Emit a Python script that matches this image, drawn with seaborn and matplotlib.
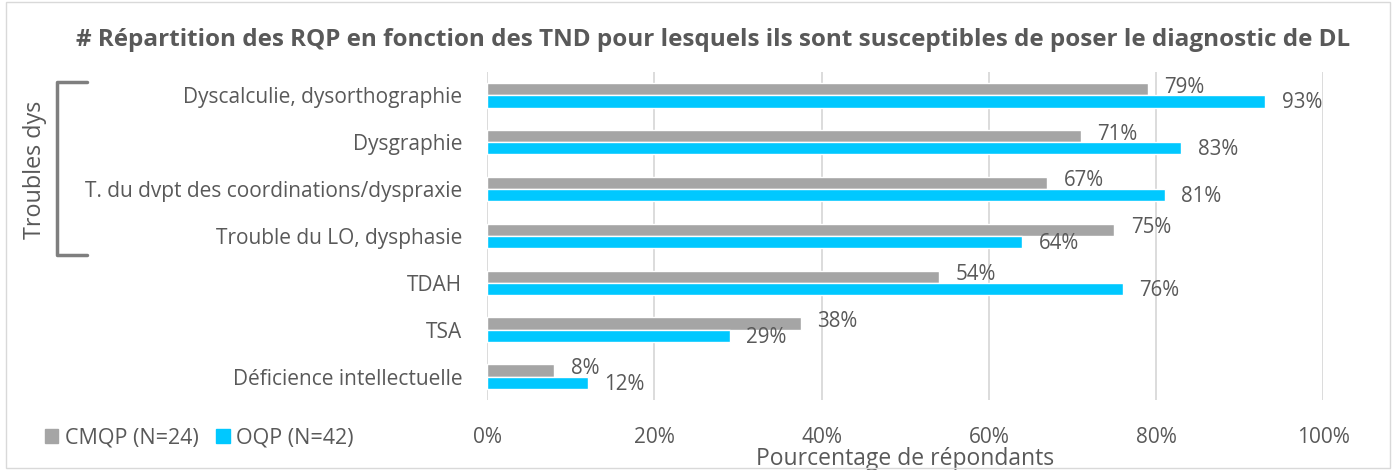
import numpy as np
import pandas as pd
import seaborn as sns
from matplotlib import pyplot as plt
from matplotlib.patches import Rectangle
from matplotlib.lines import Line2D

categories = ["Dyscalculie, dysorthographie", "Dysgraphie",
              "T. du dvpt des coordinations/dyspraxie", "Trouble du LO, dysphasie",
              "TDAH", "TSA", "Déficience intellectuelle"]
cmqp = [79, 71, 67, 75, 54, 37.5, 8]
oqp = [93, 83, 81, 64, 76, 29, 12]
cmqp_labels = ["79%", "71%", "67%", "75%", "54%", "38%", "8%"]
oqp_labels = ["93%", "83%", "81%", "64%", "76%", "29%", "12%"]
series = ["CMQP (N=24)", "OQP (N=42)"]

txt = "#595959"
colors = ["#A5A5A5", "#00C8FF"]

sns.set_theme(style="white")
plt.rcParams['font.family'] = ['Open Sans', 'DejaVu Sans']

df = pd.DataFrame({
    "cat": categories * 2,
    "val": cmqp + oqp,
    "serie": [series[0]] * 7 + [series[1]] * 7,
})

fig = plt.figure(figsize=(13.96, 4.70), dpi=100)
ax = fig.add_axes([0.349, 0.149, 0.599, 0.698])

sns.barplot(data=df, y="cat", x="val", hue="serie", palette=colors, orient="h",
            width=0.52, ax=ax, legend=False, saturation=1)

ax.set_xlim(0, 100)
ax.set_ylim(6.5, -0.5)
ax.set_xticks(np.arange(0, 101, 20))
ax.set_xticklabels([f"{v}%" for v in range(0, 101, 20)])
ax.grid(axis="x", color="#D9D9D9", linewidth=1.3)
ax.set_axisbelow(True)
for s in ax.spines.values():
    s.set_visible(False)
ax.tick_params(axis="both", length=0, labelsize=15, colors=txt)
ax.tick_params(axis="x", pad=19.5)
ax.tick_params(axis="y", pad=18)
ax.set_ylabel("")
ax.set_xlabel("Pourcentage de répondants", fontsize=16.5, color=txt, labelpad=-1)

# data labels
for i in range(len(categories)):
    ax.annotate(cmqp_labels[i], (cmqp[i], i - 0.13), xytext=(12, 1.5),
                textcoords="offset points", va="center", ha="left", fontsize=14.8, color=txt)
    ax.annotate(oqp_labels[i], (oqp[i], i + 0.13), xytext=(12, -1),
                textcoords="offset points", va="center", ha="left", fontsize=14.8, color=txt)

fig.text(0.511, 1 - 40 / 470,
         "# Répartition des RQP en fonction des TND pour lesquels ils sont susceptibles de poser le diagnostic de DL",
         ha="center", va="center", fontsize=17.5, fontweight="bold", color=txt)

# legend
handles = [Rectangle((0, 0), 1, 1, color=c) for c in colors]
fig.legend(handles, series, loc="center left", bbox_to_anchor=(0.018, 0.068), ncol=2,
           frameon=False, fontsize=15.5, labelcolor=txt, handlelength=0.65, handleheight=0.65,
           handletextpad=0.3, columnspacing=0.8)

# bracket for Troubles dys
bx = [87 / 1396, 57 / 1396, 57 / 1396, 87 / 1396]
by = [1 - 82 / 470, 1 - 82 / 470, 1 - 255 / 470, 1 - 255 / 470]
fig.add_artist(Line2D(bx, by, color="#7F7F7F", linewidth=2.5, transform=fig.transFigure))
fig.text(35 / 1396, 1 - 170 / 470, "Troubles dys", rotation=90, ha="center", va="center",
         fontsize=16.8, color=txt)

# chart border
fig.add_artist(Rectangle((0.004, 0.004), 0.992, 0.992, fill=False, edgecolor="#D9D9D9",
                         linewidth=1, transform=fig.transFigure))

fig.savefig("out.png", dpi=100)
